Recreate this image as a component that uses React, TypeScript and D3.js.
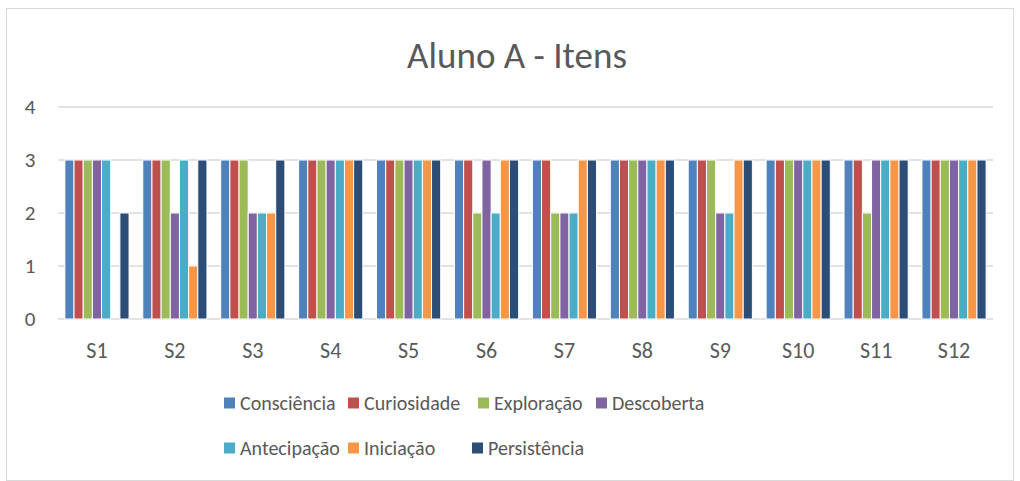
import React from "react";
import * as d3 from "d3";

const categories = ["S1", "S2", "S3", "S4", "S5", "S6", "S7", "S8", "S9", "S10", "S11", "S12"];
const seriesNames = ["Consciência", "Curiosidade", "Exploração", "Descoberta", "Antecipação", "Iniciação", "Persistência"];
const seriesColors = ["#4F81BD", "#C0504D", "#9BBB59", "#8064A2", "#4BACC6", "#F79646", "#2C4D75"];
const consciencia = [3, 3, 3, 3, 3, 3, 3, 3, 3, 3, 3, 3];
const curiosidade = [3, 3, 3, 3, 3, 3, 3, 3, 3, 3, 3, 3];
const exploracao = [3, 3, 3, 3, 3, 2, 2, 3, 3, 3, 2, 3];
const descoberta = [3, 2, 2, 3, 3, 3, 2, 3, 2, 3, 3, 3];
const antecipacao = [3, 3, 2, 3, 3, 2, 2, 3, 2, 3, 3, 3];
const iniciacao = [0, 1, 2, 3, 3, 3, 3, 3, 3, 3, 3, 3];
const persistencia = [2, 3, 3, 3, 3, 3, 3, 3, 3, 3, 3, 3];
const seriesValues = [consciencia, curiosidade, exploracao, descoberta, antecipacao, iniciacao, persistencia];
const yTicks = [0, 1, 2, 3, 4];

const W = 1020;
const H = 481;
const FONT = "Carlito, Lato, 'Open Sans', sans-serif";
const TXT = "#595959";

export default function App() {
  const left = 58, right = 993, top = 107, bottom = 319;
  const x0 = d3.scaleBand<string>().domain(categories).range([left, right]).paddingInner(0).paddingOuter(0);
  const gw = x0.bandwidth();
  const barW = gw / (seriesNames.length + 1.5);
  const x1 = d3.scaleBand<string>().domain(seriesNames).range([barW * 0.75, gw - barW * 0.75]);
  const y = d3.scaleLinear().domain([0, 4]).range([bottom, top]);

  const legendRows = [
    [{ i: 0, x: 224 }, { i: 1, x: 348 }, { i: 2, x: 478 }, { i: 3, x: 596 }],
    [{ i: 4, x: 224 }, { i: 5, x: 348 }, { i: 6, x: 472 }],
  ];
  const legendY = [403, 448];

  return (
    <svg width={W} height={H} style={{ position: "absolute", left: 0, top: 0 }} fontFamily={FONT}>
      <rect x={6.5} y={8.5} width={1007} height={472} fill="#fff" stroke="#d9d9d9" strokeWidth={1} />
      <text x={517} y={55} textAnchor="middle" dominantBaseline="central" fontSize={37} fill={TXT}>
        Aluno A - Itens
      </text>
      {yTicks.map((t) => (
        <g key={t}>
          <line x1={left} x2={right} y1={y(t)} y2={y(t)} stroke="#d9d9d9" strokeWidth={1.3} />
          <text x={30} y={y(t)} textAnchor="middle" dominantBaseline="central" fontSize={21} fill={TXT}>
            {t}
          </text>
        </g>
      ))}
      {categories.map((c, ci) => (
        <g key={c} transform={`translate(${x0(c)},0)`}>
          {seriesNames.map((s, si) => {
            const v = seriesValues[si][ci];
            if (!v) return null;
            return (
              <rect
                key={s}
                x={x1(s)}
                y={y(v)}
                width={x1.bandwidth()}
                height={y(0) - y(v)}
                fill={seriesColors[si]}
                stroke="#fff"
                strokeWidth={1}
              />
            );
          })}
          <text x={gw / 2} y={350} textAnchor="middle" dominantBaseline="central" fontSize={22} fill={TXT}>
            {c}
          </text>
        </g>
      ))}
      {legendRows.map((row, ri) =>
        row.map(({ i, x }) => (
          <g key={i}>
            <rect x={x} y={legendY[ri] - 5.5} width={11} height={11} fill={seriesColors[i]} />
            <text x={x + 16} y={legendY[ri]} dominantBaseline="central" fontSize={20} fill={TXT}>
              {seriesNames[i]}
            </text>
          </g>
        ))
      )}
    </svg>
  );
}
